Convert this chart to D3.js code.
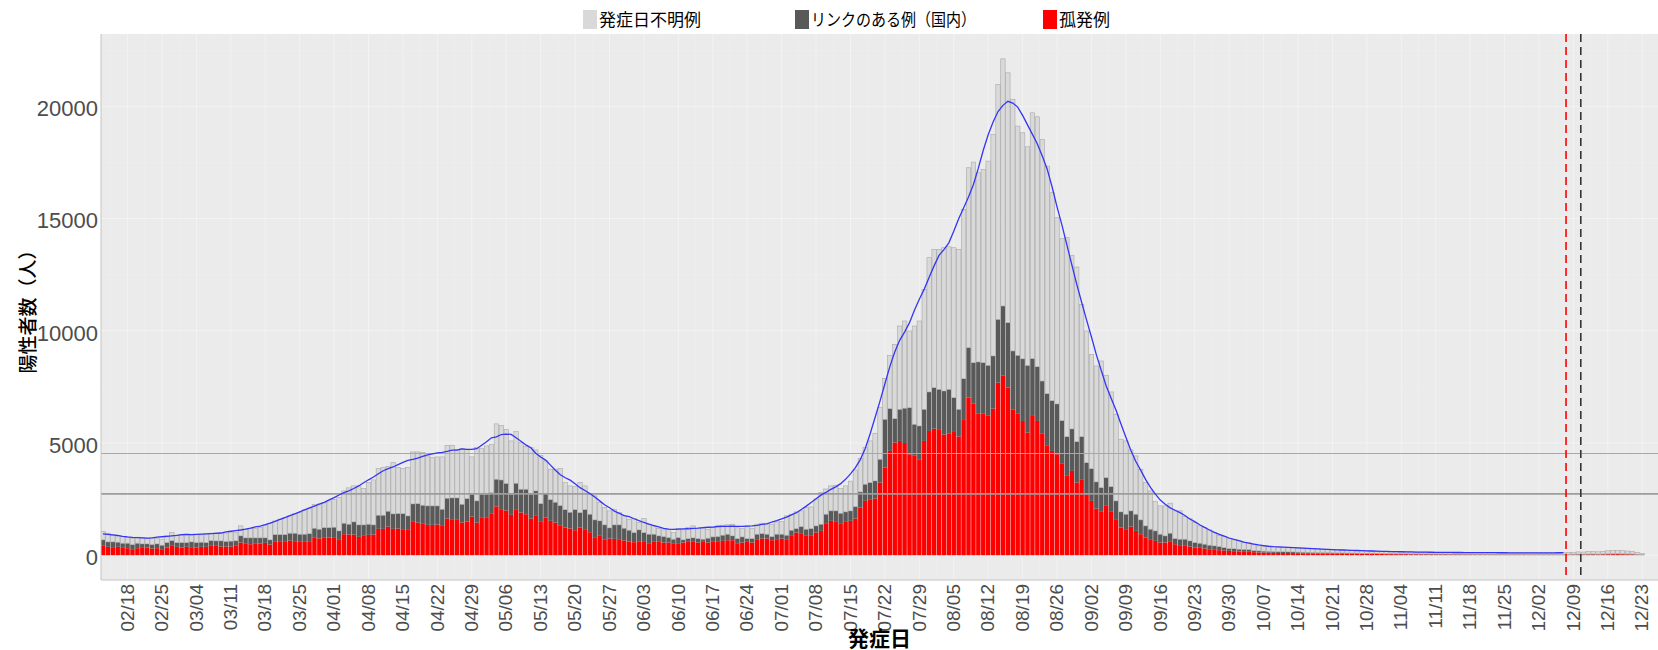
<!DOCTYPE html>
<html>
<head>
<meta charset="utf-8">
<title>発症日別 陽性者数</title>
<script src="https://d3js.org/d3.v7.min.js"></script>
<style>
  body { margin: 0; background: #fff; }
  svg { display: block; }
</style>
</head>
<body>
<div id="chart"></div>
<script>
// first day of the series, one value per day from here on
var firstDay = "2022-02-13";

// 孤発例
var sporadic = [
  416,371,356,371,326,312,267,
  312,326,341,297,312,267,341,
  416,371,341,371,356,341,371,
  371,416,416,386,386,386,416,
  564,505,490,505,519,549,475,
  594,594,623,653,623,594,594,
  623,772,742,772,787,772,712,
  935,920,920,816,890,905,920,
  1172,1172,1276,1172,1187,1158,1128,
  1484,1454,1395,1350,1350,1365,1336,
  1632,1603,1603,1454,1499,1721,1454,
  1692,1692,1870,2175,2050,1990,1796,
  2048,1900,1826,1633,1781,1484,1678,
  1529,1455,1306,1232,1187,1113,1232,
  1158,1024,801,861,683,742,727,
  712,653,609,579,594,624,534,
  594,594,564,564,534,534,564,
  594,594,564,594,564,594,623,
  638,668,668,534,564,594,564,
  712,742,742,668,712,742,712,
  890,1009,980,890,890,1009,1083,
  1425,1529,1484,1425,1484,1529,1633,
  2123,2420,2494,2524,3236,3904,4646,
  5017,5091,5000,4497,4453,4275,5091,
  5536,5640,5581,5373,5432,5491,5284,
  6026,7020,6768,6323,6323,6234,6531,
  7687,8014,7465,6501,6323,5981,5462,
  6204,5981,5432,4900,4646,4497,4097,
  3562,3755,3236,3384,2716,2419,2078,
  1930,2227,1930,1573,1232,1158,1276,
  1083,935,787,712,638,564,564,
  594,490,445,416,386,341,327,
  297,267,237,223,208,193,178,
  163,148,150,134,119,115,110,
  104,101,96,95,93,88,86,
  83,79,77,74,73,69,68,
  67,63,62,61,57,56,55,
  52,51,47,47,45,44,43,
  41,41,39,38,37,37,35,
  36,34,35,33,32,33,31,
  31,30,29,30,28,29,27,
  28,27,26,26,25,26,24,
  25,24,23,26,28,31,33,
  32,35,37,34,38,41,44,
  45,42,39,36,27,16
];

// リンクのある例（国内）
var linked = [
  267,223,238,208,208,222,208,
  222,179,164,178,193,178,223,
  237,193,223,193,238,223,208,
  193,237,222,252,230,240,226,
  297,267,282,267,253,223,208,
  326,326,297,326,356,341,341,
  342,430,416,460,445,475,371,
  490,460,564,534,460,475,430,
  609,609,683,668,668,697,623,
  801,846,831,846,846,831,712,
  906,949,949,816,1024,995,965,
  1024,1024,920,1210,1300,1210,920,
  1158,1039,1113,1083,1084,817,1068,
  950,905,906,801,728,920,668,
  875,802,772,668,668,475,624,
  639,549,504,430,534,385,401,
  341,267,267,223,178,253,119,
  148,178,178,118,193,222,208,
  253,267,193,208,252,148,178,
  223,223,193,163,223,193,178,
  223,178,296,267,297,297,297,
  401,446,491,445,446,446,534,
  697,742,742,786,1039,2152,1885,
  1069,1410,1550,2078,1380,1484,1410,
  1737,1825,1810,1943,1959,1529,1217,
  1839,2229,1813,2287,2258,2228,2346,
  2822,3089,2896,2598,2583,2769,2998,
  2556,2419,2328,2300,2241,2242,1903,
  1722,1871,1825,1900,1410,1439,1187,
  1083,1231,1128,846,698,668,698,
  743,638,519,446,445,371,297,
  386,252,267,296,252,223,207,
  193,178,179,163,133,104,112,
  104,112,105,74,74,65,62,
  60,57,56,54,51,48,46,
  45,42,40,39,37,36,34,
  35,32,31,30,28,28,27,
  26,25,24,22,23,20,21,
  20,19,18,18,17,16,16,
  16,15,14,15,14,13,14,
  14,13,12,12,13,12,12,
  12,11,12,10,11,10,10,
  10,11,10,10,12,12,14,
  14,15,16,14,16,18,19,
  20,18,17,16,12,8
];

// 発症日不明例
var unknownOnset = [
  371,385,296,282,297,253,267,
  267,267,237,312,237,267,297,
  356,326,326,371,311,356,326,
  371,326,356,356,371,401,356,
  445,386,415,415,460,564,742,
  609,683,757,772,861,965,1083,
  1127,1054,1127,1113,1187,1246,1484,
  1439,1618,1603,1737,1618,1855,2004,
  2077,2137,1988,2286,2048,2003,2152,
  2315,2300,2345,2226,2152,2182,2330,
  2359,2345,2167,2479,2196,1662,2374,
  2048,2152,2152,2465,2425,2400,2374,
  2300,2077,1899,2078,1825,2151,1454,
  1351,1470,1648,1203,1172,1027,1336,
  1054,890,1069,816,772,758,697,
  549,550,490,624,327,624,445,
  371,326,297,371,297,400,445,
  490,534,445,475,401,416,475,
  445,416,519,475,371,564,445,
  445,460,490,549,549,565,862,
  713,743,699,966,963,1194,1420,
  1124,1112,1142,1098,1157,1325,1633,
  1480,1632,1855,2122,2300,1809,2369,
  3310,3711,3885,3415,4379,4676,5344,
  5982,6161,6235,6384,6354,6680,7125,
  7542,8014,8934,8430,8608,9098,9870,
  10465,11014,11133,11201,10212,10071,9738,
  10951,11133,10764,10137,9263,8297,8101,
  8862,7733,7778,5893,5864,5093,5166,
  5641,4558,4216,3861,3236,3265,2716,
  2597,2256,1929,1706,1307,1262,1336,
  1336,1232,1262,1010,995,891,772,
  742,683,593,505,490,445,393,
  371,304,315,282,223,220,213,
  209,206,201,198,197,190,181,
  171,166,161,151,147,141,137,
  133,125,121,119,111,107,105,
  99,97,95,89,89,85,85,
  81,81,77,79,75,77,73,
  73,73,71,71,71,70,69,
  70,69,68,68,67,68,66,
  66,66,65,67,66,64,66,
  67,63,66,68,78,88,100,
  94,106,108,102,118,136,144,
  146,138,130,112,82,48
];

var tickLabels = ["02/18","02/25","03/04","03/11","03/18","03/25","04/01","04/08",
  "04/15","04/22","04/29","05/06","05/13","05/20","05/27","06/03","06/10","06/17",
  "06/24","07/01","07/08","07/15","07/22","07/29","08/05","08/12","08/19","08/26",
  "09/02","09/09","09/16","09/23","09/30","10/07","10/14","10/21","10/28","11/04",
  "11/11","11/18","11/25","12/02","12/09","12/16","12/23"];
var yTicks = [0, 5000, 10000, 15000, 20000];

// reference levels (horizontal) and cut-off days (vertical, drawn after the day)
var redLevel = 4530;
var greyLevel = 2730;
var cutoffDays = ["12/07", "12/10"];
var avgLastDay = "12/07";

var W = 1658, H = 650;
var pLeft = 101, pTop = 34, pRight = 1658, pBottom = 580;

var parseDay = d3.timeParse("%Y-%m-%d");
var fmtDay = d3.timeFormat("%m/%d");
var start = parseDay(firstDay);
var dayLabels = sporadic.map(function (v, i) { return fmtDay(d3.timeDay.offset(start, i)); });

var x = d3.scaleLinear().domain([-0.4, 316.2]).range([pLeft, pRight]);
var y = d3.scaleLinear().domain([-1106, 23223]).range([pBottom, pTop]);

var svg = d3.select("#chart").append("svg")
  .attr("width", W).attr("height", H);

svg.append("rect").attr("width", W).attr("height", H).attr("fill", "#fff");

svg.append("defs").append("clipPath").attr("id", "clip")
  .append("rect")
  .attr("x", pLeft).attr("y", pTop)
  .attr("width", pRight - pLeft).attr("height", pBottom - pTop);

svg.append("rect")
  .attr("x", pLeft).attr("y", pTop)
  .attr("width", pRight - pLeft).attr("height", pBottom - pTop)
  .attr("fill", "#EBEBEB");

var plot = svg.append("g").attr("clip-path", "url(#clip)");

// grid lines (very faint in the original)
var tickIdx = tickLabels.map(function (t) { return dayLabels.indexOf(t); });
var minorX = tickIdx.map(function (i) { return i - 3.5; }).concat([tickIdx[tickIdx.length - 1] + 3.5]);
var minorY = yTicks.map(function (v) { return v + 2500; });

plot.selectAll(".gx").data(minorX).enter().append("line")
  .attr("x1", function (d) { return x(d); }).attr("x2", function (d) { return x(d); })
  .attr("y1", pTop).attr("y2", pBottom)
  .attr("stroke", "#fff").attr("stroke-opacity", 0.25).attr("stroke-width", 0.6);
plot.selectAll(".gX").data(tickIdx).enter().append("line")
  .attr("x1", function (d) { return x(d); }).attr("x2", function (d) { return x(d); })
  .attr("y1", pTop).attr("y2", pBottom)
  .attr("stroke", "#fff").attr("stroke-opacity", 0.4).attr("stroke-width", 1);
plot.selectAll(".gy").data(minorY).enter().append("line")
  .attr("x1", pLeft).attr("x2", pRight)
  .attr("y1", function (d) { return y(d); }).attr("y2", function (d) { return y(d); })
  .attr("stroke", "#fff").attr("stroke-opacity", 0.25).attr("stroke-width", 0.6);
plot.selectAll(".gY").data(yTicks).enter().append("line")
  .attr("x1", pLeft).attr("x2", pRight)
  .attr("y1", function (d) { return y(d); }).attr("y2", function (d) { return y(d); })
  .attr("stroke", "#fff").attr("stroke-opacity", 0.4).attr("stroke-width", 1);

// stacked bars
var rows = dayLabels.map(function (d, i) {
  return { i: i, sporadic: sporadic[i], linked: linked[i], unknown: unknownOnset[i] };
});
var keys = ["sporadic", "linked", "unknown"];
var fills = { sporadic: "#FF0000", linked: "#595959", unknown: "#D9D9D9" };
var layers = d3.stack().keys(keys)(rows);
var bw = (x(1) - x(0)) * 0.9;

plot.selectAll(".layer").data(layers).enter().append("g")
  .attr("fill", function (d) { return fills[d.key]; })
  .attr("stroke", function (d) { return d.key === "unknown" ? "#A8A8A8" : "none"; })
  .attr("stroke-width", 0.6)
  .selectAll("rect").data(function (d) { return d; })
  .enter().append("rect")
  .attr("x", function (d) { return x(d.data.i) - bw / 2; })
  .attr("width", bw)
  .attr("y", function (d) { return y(d[1]); })
  .attr("height", function (d) { return y(d[0]) - y(d[1]); });

// horizontal reference lines
plot.append("line")
  .attr("x1", pLeft).attr("x2", pRight)
  .attr("y1", y(redLevel)).attr("y2", y(redLevel))
  .attr("stroke", "#F08A8A").attr("stroke-width", 1);
plot.append("line")
  .attr("x1", pLeft).attr("x2", pRight)
  .attr("y1", y(greyLevel)).attr("y2", y(greyLevel))
  .attr("stroke", "#9C9C9C").attr("stroke-width", 1.6);

// 7-day centred average of the daily totals
var totals = rows.map(function (r) { return r.sporadic + r.linked + r.unknown; });
var lastAvg = dayLabels.indexOf(avgLastDay);
var avg = d3.range(0, lastAvg + 1).map(function (i) {
  return [i, d3.mean(totals.slice(Math.max(0, i - 3), i + 4))];
});
plot.append("path")
  .datum(avg)
  .attr("fill", "none")
  .attr("stroke", "#3535F5")
  .attr("stroke-width", 1.3)
  .attr("d", d3.line()
    .x(function (d) { return x(d[0]); })
    .y(function (d) { return y(d[1]); }));

// vertical dashed cut-offs
var cutColors = ["#FF0000", "#333333"];
cutoffDays.forEach(function (day, k) {
  var cx = x(dayLabels.indexOf(day) + 0.5);
  plot.append("line")
    .attr("x1", cx).attr("x2", cx)
    .attr("y1", pTop).attr("y2", pBottom)
    .attr("stroke", cutColors[k])
    .attr("stroke-width", 1.6)
    .attr("stroke-dasharray", "8,5");
});

// axis lines
svg.append("line").attr("x1", pLeft).attr("x2", pLeft).attr("y1", pTop).attr("y2", pBottom)
  .attr("stroke", "#C4C4C4").attr("stroke-width", 1);
svg.append("line").attr("x1", pLeft).attr("x2", pRight).attr("y1", pBottom).attr("y2", pBottom)
  .attr("stroke", "#C4C4C4").attr("stroke-width", 1);

var tickFont = "'Liberation Sans', Arial, sans-serif";
var jpFont = "'Noto Sans CJK JP', 'Noto Sans', sans-serif";

var yAxis = svg.append("g")
  .attr("transform", "translate(" + pLeft + ",0)")
  .call(d3.axisLeft(y).tickValues(yTicks).tickSize(0).tickPadding(3).tickFormat(d3.format("d")));
yAxis.select(".domain").remove();
yAxis.selectAll("text")
  .attr("dy", "0.42em")
  .style("font-family", tickFont)
  .style("font-size", "22px")
  .attr("fill", "#4D4D4D");

var xAxis = svg.append("g")
  .attr("transform", "translate(0," + pBottom + ")")
  .call(d3.axisBottom(x).tickValues(tickIdx).tickSize(0)
    .tickFormat(function (d, k) { return tickLabels[k]; }));
xAxis.select(".domain").remove();
xAxis.selectAll("text")
  .attr("transform", "rotate(-90)")
  .attr("x", -4).attr("y", 0).attr("dy", "0.3em")
  .attr("text-anchor", "end")
  .style("font-family", tickFont)
  .style("font-size", "19px")
  .attr("fill", "#4D4D4D");

// axis titles
svg.append("text")
  .attr("transform", "translate(28," + ((pTop + pBottom) / 2) + ") rotate(-90)")
  .attr("text-anchor", "middle")
  .attr("dy", "0.35em")
  .style("font-family", jpFont)
  .style("font-size", "19px")
  .style("font-weight", "500")
  .attr("fill", "#000")
  .text("陽性者数（人）");

svg.append("text")
  .attr("x", (pLeft + pRight) / 2)
  .attr("y", 646)
  .attr("text-anchor", "middle")
  .style("font-family", jpFont)
  .style("font-size", "21px")
  .style("font-weight", "bold")
  .attr("fill", "#000")
  .text("発症日");

// legend
var legendItems = [
  { label: "発症日不明例", key: "unknown", x: 583, len: null },
  { label: "リンクのある例（国内）", key: "linked", x: 795, len: 165 },
  { label: "孤発例", key: "sporadic", x: 1043, len: null }
];
var legend = svg.append("g");
legendItems.forEach(function (it) {
  legend.append("rect")
    .attr("x", it.x).attr("y", 10)
    .attr("width", 14).attr("height", 19)
    .attr("fill", fills[it.key]);
  var t = legend.append("text")
    .attr("x", it.x + 16).attr("y", 20)
    .attr("dy", "0.35em")
    .style("font-family", jpFont)
    .style("font-size", "17px")
    .attr("fill", "#000")
    .text(it.label);
  if (it.len) t.attr("textLength", it.len).attr("lengthAdjust", "spacingAndGlyphs");
});
</script>
</body>
</html>
